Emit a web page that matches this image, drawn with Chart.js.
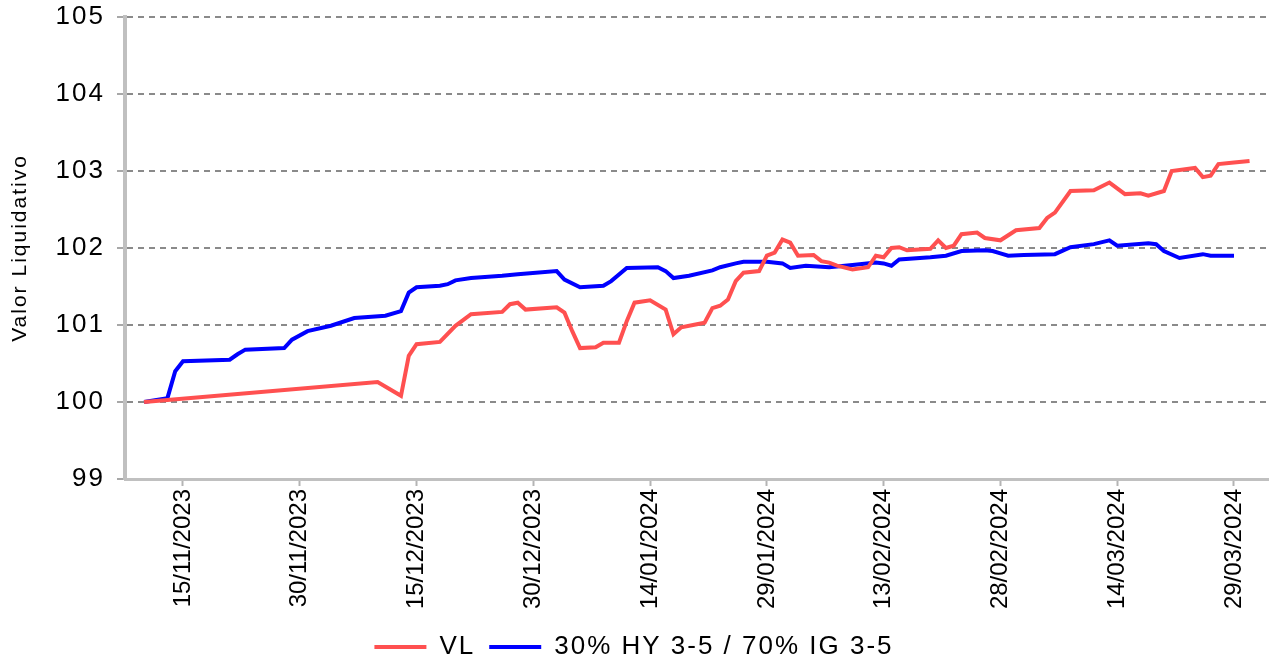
<!DOCTYPE html>
<html>
<head>
<meta charset="utf-8">
<script src="https://cdn.jsdelivr.net/npm/chart.js@4.4.0/dist/chart.umd.min.js"></script>
<style>
  html, body { margin: 0; padding: 0; background: #fff; }
  .chart-container { position: relative; width: 1275px; height: 662px; }
</style>
</head>
<body>
<div class="chart-container"><canvas id="chart"></canvas></div>
<script>
// x axis tick dates
const tickDates = ['15/11/2023', '30/11/2023', '15/12/2023', '30/12/2023', '14/01/2024',
  '29/01/2024', '13/02/2024', '28/02/2024', '14/03/2024', '29/03/2024'];

// VL (fund)
const vlDates = ['10/11/2023', '10/12/2023', '13/12/2023', '14/12/2023', '15/12/2023', '18/12/2023',
  '20/12/2023', '22/12/2023', '26/12/2023', '27/12/2023', '28/12/2023', '29/12/2023', '02/01/2024',
  '03/01/2024', '04/01/2024', '05/01/2024', '07/01/2024', '08/01/2024', '10/01/2024', '11/01/2024',
  '12/01/2024', '14/01/2024', '16/01/2024', '17/01/2024', '18/01/2024', '20/01/2024', '21/01/2024',
  '22/01/2024', '23/01/2024', '24/01/2024', '25/01/2024', '26/01/2024', '28/01/2024', '29/01/2024',
  '30/01/2024', '31/01/2024', '01/02/2024', '02/02/2024', '04/02/2024', '05/02/2024', '06/02/2024',
  '07/02/2024', '09/02/2024', '11/02/2024', '12/02/2024', '13/02/2024', '14/02/2024', '15/02/2024',
  '16/02/2024', '19/02/2024', '20/02/2024', '21/02/2024', '22/02/2024', '23/02/2024', '25/02/2024',
  '26/02/2024', '28/02/2024', '01/03/2024', '04/03/2024', '05/03/2024', '06/03/2024', '08/03/2024',
  '11/03/2024', '13/03/2024', '15/03/2024', '17/03/2024', '18/03/2024', '20/03/2024', '21/03/2024',
  '24/03/2024', '25/03/2024', '26/03/2024', '27/03/2024', '29/03/2024', '31/03/2024'];
const vlValues = [100.00, 100.26, 100.08, 100.60, 100.75, 100.78,
  100.99, 101.14, 101.17, 101.27, 101.29, 101.20, 101.23,
  101.16, 100.92, 100.70, 100.71, 100.77, 100.77, 101.05,
  101.29, 101.32, 101.20, 100.88, 100.97, 101.01, 101.03,
  101.22, 101.25, 101.33, 101.57, 101.68, 101.70, 101.90,
  101.94, 102.11, 102.07, 101.90, 101.91, 101.83, 101.81,
  101.77, 101.72, 101.75, 101.90, 101.88, 102.00, 102.01,
  101.97, 101.99, 102.10, 102.00, 102.03, 102.18, 102.20,
  102.13, 102.10, 102.23, 102.26, 102.39, 102.46, 102.74,
  102.75, 102.85, 102.70, 102.71, 102.68, 102.74, 103.00,
  103.04, 102.92, 102.94, 103.09, 103.11, 103.13];

// 30% HY 3-5 / 70% IG 3-5 (benchmark)
const bmDates = ['10/11/2023', '13/11/2023', '14/11/2023', '15/11/2023', '21/11/2023', '22/11/2023',
  '23/11/2023', '28/11/2023', '29/11/2023', '01/12/2023', '04/12/2023', '07/12/2023', '11/12/2023',
  '13/12/2023', '14/12/2023', '15/12/2023', '18/12/2023', '19/12/2023', '20/12/2023', '22/12/2023',
  '26/12/2023', '28/12/2023', '02/01/2024', '03/01/2024', '05/01/2024', '08/01/2024', '09/01/2024',
  '11/01/2024', '15/01/2024', '16/01/2024', '17/01/2024', '19/01/2024', '22/01/2024', '23/01/2024',
  '25/01/2024', '26/01/2024', '29/01/2024', '31/01/2024', '01/02/2024', '03/02/2024', '06/02/2024',
  '09/02/2024', '12/02/2024', '13/02/2024', '14/02/2024', '15/02/2024', '19/02/2024', '21/02/2024',
  '23/02/2024', '26/02/2024', '27/02/2024', '28/02/2024', '29/02/2024', '02/03/2024', '06/03/2024',
  '08/03/2024', '11/03/2024', '13/03/2024', '14/03/2024', '18/03/2024', '19/03/2024', '20/03/2024',
  '22/03/2024', '25/03/2024', '26/03/2024', '29/03/2024'];
const bmValues = [100.00, 100.05, 100.40, 100.53, 100.55, 100.62,
  100.68, 100.70, 100.81, 100.92, 100.99, 101.09, 101.12,
  101.18, 101.42, 101.49, 101.51, 101.53, 101.58, 101.61,
  101.64, 101.66, 101.70, 101.59, 101.49, 101.51, 101.57,
  101.74, 101.75, 101.70, 101.61, 101.64, 101.71, 101.75,
  101.80, 101.82, 101.82, 101.80, 101.74, 101.77, 101.75,
  101.78, 101.81, 101.80, 101.77, 101.85, 101.88, 101.90,
  101.96, 101.97, 101.96, 101.93, 101.90, 101.91, 101.92,
  102.01, 102.05, 102.10, 102.03, 102.06, 102.05, 101.96,
  101.87, 101.92, 101.90, 101.90];

const baseDate = Date.UTC(2023, 10, 15);
function toDay(s) {
  const [d, m, y] = s.split('/').map(Number);
  return (Date.UTC(y, m - 1, d) - baseDate) / 86400000;
}
const toPoints = (dates, values) => dates.map((d, i) => ({ x: toDay(d), y: values[i] }));

const sans = "'Liberation Sans', Arial, sans-serif";

// spaced-out lettering for y ticks, title and legend; the date labels
// are drawn after the datasets (ticks z: 1) and get normal spacing
const letterSpacing = {
  id: 'letterSpacing',
  beforeUpdate(chart) { chart.ctx.letterSpacing = '2px'; },
  beforeDraw(chart) { chart.ctx.letterSpacing = '2px'; },
  afterDatasetsDraw(chart) { chart.ctx.letterSpacing = '0px'; },
};

const ctx = document.getElementById('chart').getContext('2d');
new Chart(ctx, {
  type: 'line',
  data: {
    datasets: [
      {
        label: 'VL',
        data: toPoints(vlDates, vlValues),
        borderColor: '#ff5050',
        backgroundColor: '#ff5050',
        borderWidth: 4,
        pointRadius: 0,
        tension: 0,
      },
      {
        label: '30% HY 3-5 / 70% IG 3-5',
        data: toPoints(bmDates, bmValues),
        borderColor: '#0000ff',
        backgroundColor: '#0000ff',
        borderWidth: 4,
        pointRadius: 0,
        tension: 0,
      },
    ],
  },
  options: {
    responsive: true,
    maintainAspectRatio: false,
    animation: false,
    layout: {
      padding: { left: 0, right: 7, top: 17, bottom: -8 },
    },
    plugins: {
      tooltip: { enabled: false },
      legend: {
        position: 'bottom',
        labels: {
          usePointStyle: true,
          pointStyle: 'line',
          pointStyleWidth: 52,
          padding: 14,
          color: '#000',
          font: { family: sans, size: 26 },
        },
      },
    },
    scales: {
      x: {
        type: 'linear',
        min: -7.45,
        max: 139.37,
        afterBuildTicks: (axis) => {
          axis.ticks = tickDates.map((s) => ({ value: toDay(s) }));
        },
        afterFit: (scale) => { scale.height = 141; },
        ticks: {
          z: 1,
          autoSkip: false,
          minRotation: 90,
          maxRotation: 90,
          padding: 3,
          color: '#000',
          font: { family: sans, size: 24 },
          callback: (value, index) => tickDates[index],
        },
        grid: {
          drawOnChartArea: false,
          drawTicks: true,
          tickLength: 7,
          tickColor: '#b4b4b4',
          tickWidth: 2,
        },
        border: { color: '#c0c0c0', width: 3 },
      },
      y: {
        min: 99,
        max: 105,
        afterFit: (scale) => {
          scale.width = 125;
          scale.paddingTop = 0;
          scale.paddingBottom = 0;
        },
        ticks: {
          stepSize: 1,
          padding: 12,
          color: '#000',
          font: { family: sans, size: 26 },
        },
        grid: {
          color: '#8a8a8a',
          lineWidth: 2,
          tickLength: 8,
          tickColor: '#a8a8a8',
          tickWidth: 2,
        },
        border: { color: '#c0c0c0', width: 4, dash: [6, 5] },
        title: {
          display: true,
          text: 'Valor Liquidativo',
          color: '#000',
          font: { family: sans, size: 21 },
          padding: { top: 8, bottom: 0 },
        },
      },
    },
  },
  plugins: [letterSpacing],
});
</script>
</body>
</html>
